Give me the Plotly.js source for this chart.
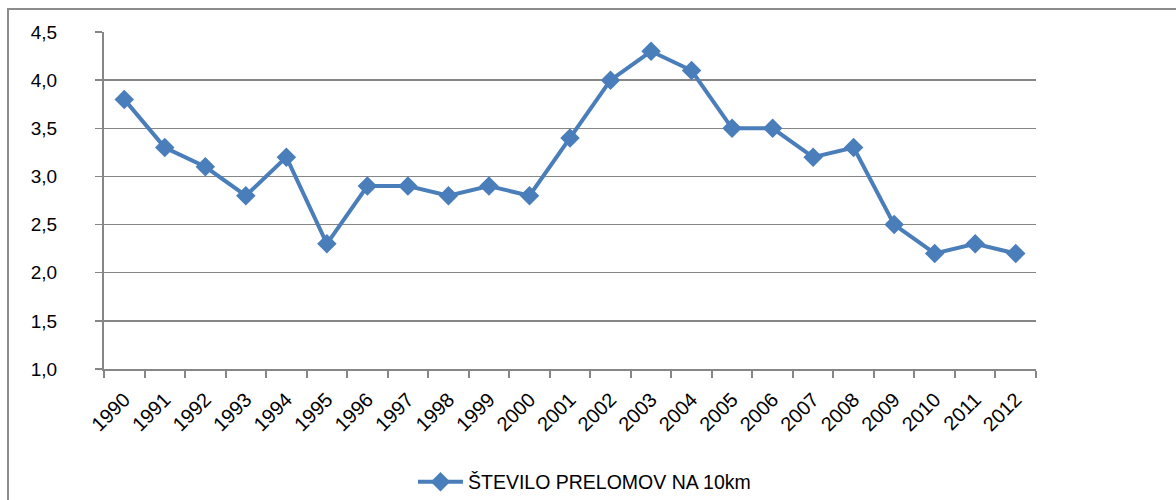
<!DOCTYPE html>
<html>
<head>
<meta charset="utf-8">
<script src="https://cdn.plot.ly/plotly-3.0.1.min.js"></script>
<style>
html,body{margin:0;padding:0;background:#fff;}
#frame{position:absolute;left:7px;top:8px;width:1300px;height:600px;border-left:2px solid #8c8c8c;border-top:2px solid #8c8c8c;pointer-events:none;}
#chart{position:absolute;left:0;top:0;width:1176px;height:500px;}
</style>
</head>
<body>
<div id="chart"></div>
<div id="frame"></div>
<script>
const years = ["1990","1991","1992","1993","1994","1995","1996","1997","1998","1999","2000","2001","2002","2003","2004","2005","2006","2007","2008","2009","2010","2011","2012"];
const values = [3.8,3.3,3.1,2.8,3.2,2.3,2.9,2.9,2.8,2.9,2.8,3.4,4.0,4.3,4.1,3.5,3.5,3.2,3.3,2.5,2.2,2.3,2.2];
const seriesName = "ŠTEVILO PRELOMOV NA 10km";

const fam = "Liberation Sans, Arial, sans-serif";
Plotly.newPlot("chart", [{
  x: years, y: values, type: "scatter", mode: "lines+markers", name: seriesName,
  line: {color: "#4a7ebb", width: 4},
  marker: {symbol: "diamond", size: 15, color: "#4a7ebb"}
}], {
  width: 1176, height: 500,
  margin: {l: 104, r: 140, t: 32, b: 131},
  paper_bgcolor: "rgba(0,0,0,0)", plot_bgcolor: "#fff",
  separators: ",.",
  font: {family: fam, size: 18, color: "#000"},
  showlegend: true,
  legend: {orientation: "h", x: 0.497, xanchor: "center", xref: "container", y: 0.036, yanchor: "middle", yref: "container",
    itemwidth: 45, font: {family: fam, size: 19.5, color: "#000"}},
  xaxis: {type: "category", tickson: "boundaries", ticks: "outside", ticklen: 7, tickcolor: "#868686", tickwidth: 2,
    showline: true, linecolor: "#868686", linewidth: 2, showgrid: false, tickangle: -45, range: [-0.5, 22.5],
    tickfont: {family: fam, size: 20, color: "#000"}, automargin: false, ticklabelstandoff: 9},
  yaxis: {range: [1, 4.5], dtick: 0.5, tickformat: ".1f", ticks: "outside", ticklen: 7, tickcolor: "#868686", tickwidth: 1.5,
    showline: true, linecolor: "#868686", linewidth: 2, showgrid: true, gridcolor: "#868686", gridwidth: 1.5, zeroline: false,
    tickfont: {family: fam, size: 19, color: "#000"}, automargin: false, ticklabelstandoff: 34}
}, {displayModeBar: false, staticPlot: true});
</script>
</body>
</html>
